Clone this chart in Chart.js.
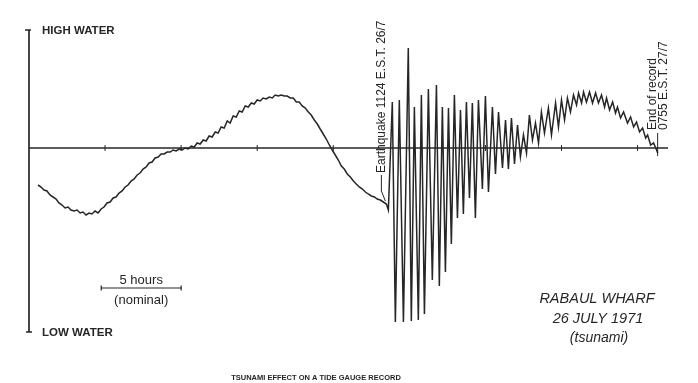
<!DOCTYPE html>
<html lang="en">
<head>
    <meta charset="UTF-8">
    <title>Tsunami effect on a tide gauge record</title>
    <script src="https://cdn.jsdelivr.net/npm/chart.js"></script>
    <style>
        body { margin: 0; background: #fff; }
        #wrap { width: 698px; height: 383px; position: relative; }
    </style>
</head>
<body>
    <div id="wrap">
        <canvas id="tideChart"></canvas>
    </div>

    <script>
        // Rabaul wharf, 26-27 July 1971. Hours from start of record, level in metres about the datum line.
        const tideHours = [0.59, 0.79, 0.99, 1.18, 1.38, 1.58, 1.78, 1.97, 2.17, 2.37, 2.57, 2.76, 2.96, 3.16, 3.36, 3.55, 3.75, 3.95, 4.14, 4.34,
            4.54, 4.74, 4.93, 5.13, 5.33, 5.53, 5.72, 5.92, 6.12, 6.32, 6.51, 6.71, 6.91, 7.11, 7.30, 7.50, 7.70, 7.89, 8.09, 8.29,
            8.49, 8.68, 8.88, 9.08, 9.28, 9.47, 9.67, 9.87, 10.07, 10.26, 10.46, 10.66, 10.86, 11.05, 11.25, 11.45, 11.64, 11.84, 12.04, 12.24,
            12.43, 12.63, 12.83, 13.03, 13.22, 13.42, 13.62, 13.82, 14.01, 14.21, 14.41, 14.61, 14.80, 15.00, 15.20, 15.39, 15.59, 15.79, 15.99, 16.18,
            16.38, 16.58, 16.78, 16.97, 17.17, 17.37, 17.57, 17.76, 17.96, 18.16, 18.36, 18.55, 18.75, 18.95, 19.14, 19.34, 19.54, 19.74, 19.93, 20.13,
            20.33, 20.53, 20.72, 20.92, 21.12, 21.32, 21.51, 21.71, 21.91, 22.11, 22.30, 22.50, 22.70, 22.89, 23.09, 23.29, 23.49, 23.62];
        const tideLevel = [-0.37, -0.39, -0.42, -0.43, -0.47, -0.49, -0.51, -0.55, -0.57, -0.60, -0.59, -0.62, -0.63, -0.62, -0.65, -0.64, -0.67, -0.65, -0.66, -0.63,
            -0.65, -0.61, -0.59, -0.55, -0.54, -0.50, -0.49, -0.45, -0.43, -0.39, -0.37, -0.33, -0.31, -0.27, -0.25, -0.21, -0.19, -0.15, -0.14, -0.10,
            -0.09, -0.06, -0.06, -0.04, -0.04, -0.02, -0.03, -0.01, -0.02, 0.00, -0.01, 0.02, 0.01, 0.05, 0.04, 0.08, 0.07, 0.12, 0.11, 0.16,
            0.15, 0.21, 0.20, 0.27, 0.25, 0.32, 0.31, 0.37, 0.36, 0.42, 0.41, 0.45, 0.44, 0.48, 0.47, 0.50, 0.49, 0.51, 0.50, 0.53,
            0.52, 0.53, 0.52, 0.52, 0.50, 0.50, 0.46, 0.46, 0.42, 0.40, 0.36, 0.33, 0.28, 0.24, 0.19, 0.14, 0.09, 0.03, -0.02, -0.07,
            -0.12, -0.18, -0.21, -0.26, -0.29, -0.33, -0.36, -0.39, -0.41, -0.44, -0.46, -0.48, -0.49, -0.51, -0.52, -0.54, -0.56, -0.62];

        // after the earthquake: crests and troughs of the tsunami and the following tide
        const waveHours = [23.88, 24.08, 24.34, 24.61, 24.93, 25.13, 25.33, 25.59, 25.79, 25.99, 26.25, 26.51, 26.78, 26.97, 27.17, 27.37, 27.57, 27.76, 27.96, 28.16,
            28.36, 28.55, 28.75, 28.95, 29.14, 29.34, 29.54, 29.80, 30.00, 30.20, 30.46, 30.66, 30.86, 31.12, 31.32, 31.51, 31.71, 31.91, 32.11, 32.30,
            32.50, 32.70, 32.89, 33.09, 33.29, 33.49, 33.68, 33.88, 34.14, 34.34, 34.61, 34.80, 35.00, 35.20, 35.39, 35.59, 35.79, 35.99, 36.12, 36.32,
            36.45, 36.64, 36.84, 37.04, 37.24, 37.43, 37.63, 37.83, 37.96, 38.16, 38.36, 38.55, 38.68, 38.88, 39.08, 39.34, 39.54, 39.74, 39.93, 40.13,
            40.33, 40.53, 40.66, 40.86, 41.05, 41.25, 41.32];
        const waveLevel = [0.46, -1.74, 0.48, -1.74, 1.00, -1.73, 0.41, -1.72, 0.53, -1.66, 0.59, -1.32, 0.63, -1.38, 0.41, -1.24, 0.40, -0.96, 0.53, -0.70,
            0.38, -0.66, 0.46, -0.50, 0.45, -0.70, 0.48, -0.41, 0.52, -0.44, 0.41, -0.26, 0.36, -0.20, 0.28, -0.21, 0.30, -0.16, 0.23, -0.09,
            0.13, -0.05, 0.33, 0.08, 0.25, 0.05, 0.36, 0.15, 0.40, 0.13, 0.45, 0.21, 0.48, 0.28, 0.50, 0.36, 0.53, 0.43, 0.55, 0.45,
            0.56, 0.46, 0.56, 0.45, 0.55, 0.45, 0.53, 0.41, 0.50, 0.38, 0.46, 0.35, 0.41, 0.30, 0.36, 0.25, 0.31, 0.21, 0.26, 0.16,
            0.20, 0.10, 0.13, 0.03, 0.05, -0.02, -0.05];

        const tickHours = [5, 10, 15, 20, 25, 30, 35, 40];
        const scaleBarHours = [4.75, 10];
        const quakeHour = 23.49;
        const endHour = 41.32;

        const points = [];
        tideHours.forEach((h, i) => points.push({ x: h, y: tideLevel[i] }));
        waveHours.forEach((h, i) => points.push({ x: h, y: waveLevel[i] }));

        const ink = '#262626';
        const font = "'Liberation Sans', Arial, sans-serif";

        // axes, baseline and all the lettering
        const drawings = {
            id: 'drawings',
            afterDatasetsDraw(chart) {
                const ctx = chart.ctx;
                const x = chart.scales.x;
                const y = chart.scales.y;
                const area = chart.chartArea;
                const y0 = y.getPixelForValue(0);

                ctx.save();
                ctx.strokeStyle = ink;
                ctx.fillStyle = ink;

                // vertical axis
                ctx.lineWidth = 1.7;
                ctx.beginPath();
                ctx.moveTo(area.left, area.top);
                ctx.lineTo(area.left, area.bottom + 4);
                ctx.moveTo(area.left - 4, area.top);
                ctx.lineTo(area.left + 2, area.top);
                ctx.moveTo(area.left - 3, area.bottom + 4);
                ctx.lineTo(area.left + 3, area.bottom + 4);
                ctx.stroke();

                // datum line with 5 hour ticks
                ctx.lineWidth = 1.5;
                ctx.beginPath();
                ctx.moveTo(area.left, y0);
                ctx.lineTo(area.right, y0);
                ctx.stroke();
                ctx.lineWidth = 1;
                ctx.beginPath();
                tickHours.forEach(h => {
                    const px = x.getPixelForValue(h);
                    ctx.moveTo(px, y0 - 3);
                    ctx.lineTo(px, y0 + 3);
                });
                ctx.stroke();

                // scale bar
                const sb = y.getPixelForValue(-1.40);
                const s1 = x.getPixelForValue(scaleBarHours[0]);
                const s2 = x.getPixelForValue(scaleBarHours[1]);
                ctx.lineWidth = 1.2;
                ctx.beginPath();
                ctx.moveTo(s1, sb);
                ctx.lineTo(s2, sb);
                ctx.moveTo(s1, sb - 2.5);
                ctx.lineTo(s1, sb + 2.5);
                ctx.moveTo(s2, sb - 2.5);
                ctx.lineTo(s2, sb + 2.5);
                ctx.stroke();

                ctx.textBaseline = 'middle';
                ctx.textAlign = 'center';
                ctx.font = '13px ' + font;
                ctx.fillText('5 hours', (s1 + s2) / 2, sb - 8);
                ctx.fillText('(nominal)', (s1 + s2) / 2, sb + 12);

                ctx.textAlign = 'left';
                ctx.font = 'bold 11.5px ' + font;
                ctx.fillText('HIGH WATER', area.left + 13, area.top + 1);
                ctx.fillText('LOW WATER', area.left + 13, area.bottom + 5);

                ctx.textAlign = 'center';
                ctx.font = 'italic 14.5px ' + font;
                ctx.fillText('RABAUL WHARF', 597, 299);
                ctx.fillText('26 JULY 1971', 598, 319);
                ctx.font = 'italic 14px ' + font;
                ctx.fillText('(tsunami)', 599, 338);

                ctx.font = 'bold 7.5px ' + font;
                ctx.fillText('TSUNAMI EFFECT ON A TIDE GAUGE RECORD', 316, 378);

                // earthquake note
                const qx = x.getPixelForValue(quakeHour);
                const qy = y.getPixelForValue(tideLevel[tideHours.indexOf(quakeHour)]);
                ctx.lineWidth = 1;
                ctx.beginPath();
                ctx.moveTo(qx - 5, 175);
                ctx.lineTo(qx - 5, 191);
                ctx.lineTo(qx - 1, qy - 3);
                ctx.stroke();
                ctx.save();
                ctx.translate(qx - 5, 173);
                ctx.rotate(-Math.PI / 2);
                ctx.textAlign = 'left';
                ctx.font = '12px ' + font;
                ctx.fillText('Earthquake 1124 E.S.T. 26/7', 0, 0);
                ctx.restore();

                // end of record note
                const ex = x.getPixelForValue(endHour);
                ctx.beginPath();
                ctx.moveTo(ex, 133);
                ctx.lineTo(ex, y0 + 8);
                ctx.stroke();
                ctx.save();
                ctx.translate(ex - 5, 130);
                ctx.rotate(-Math.PI / 2);
                ctx.textAlign = 'left';
                ctx.font = '12px ' + font;
                ctx.fillText('End of record', 0, 0);
                ctx.fillText('0755 E.S.T. 27/7', 0, 11);
                ctx.restore();

                ctx.restore();
            }
        };

        const ctx = document.getElementById('tideChart').getContext('2d');
        new Chart(ctx, {
            type: 'line',
            data: {
                datasets: [{
                    label: 'Tide gauge',
                    data: points,
                    borderColor: ink,
                    borderWidth: 1.5,
                    pointRadius: 0,
                    tension: 0,
                    fill: false,
                    clip: false
                }]
            },
            options: {
                responsive: true,
                maintainAspectRatio: false,
                animation: false,
                layout: {
                    padding: { left: 29, right: 30, top: 30, bottom: 55 }
                },
                plugins: {
                    legend: { display: false },
                    tooltip: { enabled: false }
                },
                scales: {
                    x: { type: 'linear', min: 0, max: 42, display: false },
                    y: { min: -1.80, max: 1.18, display: false }
                }
            },
            plugins: [drawings]
        });
    </script>
</body>
</html>
